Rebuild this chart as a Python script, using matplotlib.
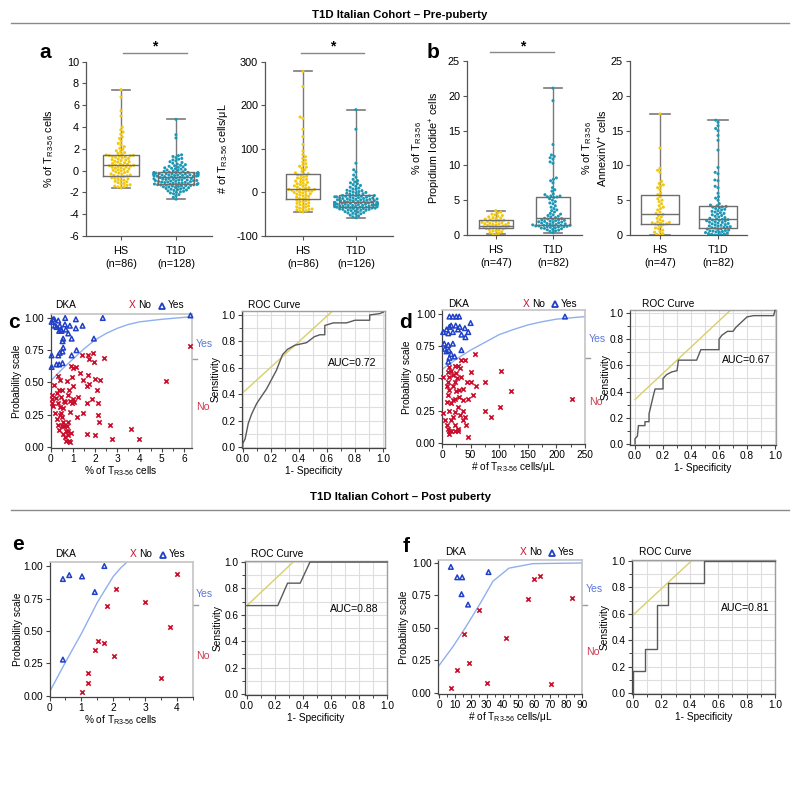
import warnings
warnings.filterwarnings("ignore")

import matplotlib
matplotlib.use("Agg")
import matplotlib.pyplot as plt
from matplotlib.lines import Line2D
from matplotlib.ticker import MultipleLocator
import seaborn as sns

plt.rcParams['font.family'] = ['Liberation Sans', 'DejaVu Sans']
plt.rcParams['mathtext.default'] = 'regular'
plt.rcParams['axes.unicode_minus'] = False
plt.rcParams['font.size'] = 8

# ---------------- data ----------------
groups = ['HS', 'T1D']

# a: % of TR3-56 cells
a1_hs = [-1.55, -1.5, -1.48, -1.42, -1.35, -1.3, -1.22, -1.18, -1.1, -1.02, -0.98, -0.92, -0.88, -0.8, -0.76,
         -0.7, -0.66, -0.6, -0.55, -0.52, -0.48,
         -0.44, -0.4, -0.33, -0.3, -0.22, -0.18, -0.12, -0.08, -0.02, 0.02, 0.08, 0.12, 0.17, 0.22, 0.26, 0.3,
         0.33, 0.38, 0.41, 0.44, 0.47, 0.49,
         0.52, 0.58, 0.62, 0.66, 0.72, 0.78, 0.82, 0.86, 0.92, 0.98, 1.02, 1.06, 1.12, 1.18, 1.22, 1.26, 1.3,
         1.33, 1.36, 1.38, 1.40,
         1.44, 1.5, 1.58, 1.66, 1.75, 1.82, 1.95, 2.05, 2.2, 2.35, 2.5, 2.7, 2.95, 3.1, 3.35, 3.55, 3.75, 4.0,
         5.0, 5.5, 6.75, 7.43]
a1_t1d = [-2.61, -2.45, -2.3, -2.2, -2.12, -2.05, -2.0, -1.95, -1.9, -1.86, -1.82, -1.78, -1.74, -1.7, -1.67,
          -1.64, -1.6, -1.57, -1.54, -1.5, -1.48, -1.45, -1.42, -1.4, -1.38, -1.36, -1.34, -1.32, -1.3, -1.29,
          -1.27, -1.26,
          -1.24, -1.23, -1.2, -1.19, -1.15, -1.14, -1.12, -1.09, -1.08, -1.05, -1.04, -1.01, -1.0, -0.98, -0.95,
          -0.94, -0.92, -0.9, -0.87, -0.86, -0.84, -0.81, -0.8, -0.78, -0.75, -0.74, -0.72, -0.69, -0.67, -0.64,
          -0.61, -0.57,
          -0.55, -0.54, -0.52, -0.51, -0.5, -0.48, -0.47, -0.45, -0.44, -0.42, -0.41, -0.4, -0.38, -0.37, -0.35,
          -0.34, -0.33, -0.31, -0.3, -0.29, -0.28, -0.27, -0.25, -0.24, -0.23, -0.22, -0.21, -0.2, -0.19, -0.18,
          -0.17, -0.16,
          -0.14, -0.1, -0.06, -0.02, 0.02, 0.06, 0.1, 0.14, 0.18, 0.22, 0.26, 0.3, 0.35, 0.4, 0.45, 0.5, 0.55,
          0.6, 0.68, 0.75, 0.82, 0.9, 0.98, 1.05, 1.12, 1.2, 1.3, 1.38, 1.45, 3.0, 3.3, 4.71]
# a: # of TR3-56 cells/uL
a2_hs = [-44, -43, -42, -40, -39, -38, -37, -36, -34, -33, -31, -30, -28, -27, -25, -24, -22, -21, -19, -18, -17,
         -15, -14, -12, -11, -9, -8, -6, -5, -4, -3, -1, 0, 1, 2, 3, 4, 5, 5, 6, 7, 7, 8,
         10, 11, 12, 14, 15, 17, 18, 20, 21, 23, 25, 26, 28, 30, 32, 33, 35, 37, 39, 40, 42,
         43, 45, 48, 52, 55, 58, 60, 63, 66, 70, 74, 78, 82, 87, 95, 110, 128, 145, 170, 173, 243, 278]
a2_t1d = [-58, -56, -54, -52, -50, -49, -48, -47, -46, -45, -44, -43, -42, -41, -41, -40, -39, -39, -38, -38,
          -37, -37, -36, -36, -35, -35, -34, -34, -34, -33, -33,
          -32, -32, -31, -31, -31, -30, -30, -30, -29, -29, -29, -28, -28, -28, -27, -27, -27, -26, -26, -26,
          -25, -25, -25, -25, -24, -24, -24, -24, -23, -23, -23, -23,
          -22, -22, -21, -21, -20, -20, -19, -19, -18, -18, -17, -17, -16, -16, -15, -15, -14, -14, -13, -13,
          -12, -12, -11, -11, -10, -10, -9, -9, -8, -8, -7, -7,
          -6, -5, -4, -3, -2, -1, 0, 1, 2, 3, 4, 5, 7, 8, 10, 12, 14, 16, 18, 20, 22, 24, 27, 30, 35, 40, 47,
          52, 67, 145, 190]
# b: propidium iodide+ and annexinV+
b1_hs = [0.05, 0.15, 0.25, 0.35, 0.45, 0.55, 0.62, 0.7, 0.78, 0.85, 0.92, 0.98, 1.02, 1.08, 1.12, 1.18, 1.22,
         1.28, 1.32, 1.38, 1.42, 1.48, 1.52, 1.58, 1.62, 1.68, 1.72, 1.78, 1.82, 1.88, 1.95, 2.0, 2.05, 2.12,
         2.2, 2.28, 2.35, 2.42, 2.5, 2.6, 2.7, 2.8, 2.9, 3.0, 3.15, 3.3, 3.5]
b1_t1d = [0.34, 0.5, 0.6, 0.7, 0.75, 0.8, 0.9, 0.95, 1.0, 1.05, 1.1, 1.15, 1.2, 1.2, 1.25, 1.3, 1.3, 1.35,
          1.38, 1.39, 1.4, 1.45, 1.5, 1.55, 1.6, 1.65, 1.7, 1.75, 1.8, 1.85, 1.9, 1.95, 2.0, 2.05, 2.1, 2.15,
          2.2, 2.25, 2.3, 2.35, 2.4, 2.5, 2.6, 2.7, 2.8, 2.9, 3.0, 3.1, 3.3, 3.5, 3.6, 3.8, 4.0, 4.2, 4.5,
          4.6, 4.8, 5.0, 5.2, 5.4, 5.46, 5.5, 5.6, 5.6, 5.8, 5.9, 6.3, 6.5, 6.8, 7.5, 7.8, 8.0, 8.2, 10.3,
          10.5, 10.9, 11.1, 11.3, 11.5, 13.0, 19.3, 21.1]
b2_hs = [0, 0.1, 0.2, 0.4, 0.5, 0.7, 0.9, 1.0, 1.2, 1.4, 1.5, 1.58, 1.6, 1.7, 1.75, 1.8, 1.9, 2.0, 2.2, 2.4,
         2.6, 2.8, 2.97, 3.1, 3.3, 3.6, 3.8, 4.0, 4.2, 4.5, 4.8, 5.0, 5.2, 5.5, 5.8, 6.0, 6.5, 6.8, 7.0, 7.2,
         7.4, 7.7, 9.0, 9.3, 9.6, 12.5, 17.4]
b2_t1d = [0, 0, 0.05, 0.1, 0.15, 0.2, 0.3, 0.35, 0.4, 0.45, 0.5, 0.55, 0.6, 0.65, 0.7, 0.8, 0.85, 0.9, 1.0,
          1.05, 1.1, 1.15, 1.2, 1.25, 1.3, 1.4, 1.45, 1.5, 1.6, 1.65, 1.7, 1.8, 1.85, 1.9, 2.0, 2.05, 2.1,
          2.15, 2.2, 2.25, 2.3, 2.4, 2.5, 2.6, 2.7, 2.8, 2.9, 3.0, 3.1, 3.2, 3.3, 3.4, 3.5, 3.6, 3.7, 3.8,
          3.9, 4.0, 4.05, 4.1, 4.2, 4.3, 4.5, 5.0, 5.3, 5.5, 6.0, 6.8, 7.0, 7.8, 7.9, 8.8, 9.0, 9.7, 12.2,
          13.6, 14.3, 15.0, 15.3, 15.7, 16.2, 16.5]

# box stats: (min, q1, median, q3, max)
a1_box = [(-1.55, -0.47, 0.49, 1.40, 7.43), (-2.61, -1.26, -0.55, -0.16, 4.71)]
a2_box = [(-44, -16, 8, 42, 278), (-58, -33, -23, -7, 190)]
b1_box = [(0.1, 1.05, 1.3, 2.1, 3.5), (0.34, 1.39, 2.4, 5.46, 21.1)]
b2_box = [(0.0, 1.58, 2.97, 5.8, 17.4), (0.0, 1.05, 2.3, 4.2, 16.5)]

a1_n = ['(n=86)', '(n=128)']
a2_n = ['(n=86)', '(n=126)']
b_n = ['(n=47)', '(n=82)']

# c: DKA vs % of TR3-56 cells (pre-puberty)
c_yes_x = [0.05, 0.27, 0.39, 0.54, 0.05, 0.35, 0.42, 0.54, 0.57, 0.95, 1.17, 0.54, 0.57, 0.95, 0.80, 0.69,
           0.47, 0.39, 0.20, 0.42, 0.65, 0.87, 1.14, 1.44, 1.95, 0.05, 0.17, 0.35, 0.66, 1.14, 2.35, 6.29,
           0.12, 0.50, 0.27]
c_yes_y = [0.62, 0.64, 0.64, 0.65, 0.71, 0.71, 0.73, 0.74, 0.77, 0.71, 0.75, 0.82, 0.84, 0.84, 0.88, 0.91,
           0.91, 0.90, 0.94, 0.94, 0.95, 0.94, 0.92, 0.94, 0.84, 0.97, 0.99, 0.98, 1.00, 0.99, 1.00, 1.02,
           0.99, 0.90, 0.93]
c_no_x = [0.05, 0.05, 0.17, 0.27, 0.35, 0.42, 0.39, 0.47, 0.35, 0.42, 0.57, 0.47, 0.53, 0.57, 0.62, 0.69,
          0.54, 0.80, 0.83, 0.93, 0.72, 0.80, 0.87, 0.72, 0.84, 0.87, 0.95, 0.99, 0.96, 1.05, 0.92, 0.99,
          1.25, 1.44, 1.44, 1.40, 1.67, 1.74, 1.92, 1.95, 1.70, 1.74, 1.62, 1.85, 2.00, 2.08, 2.15, 2.23,
          2.12, 2.20, 2.00, 1.65, 2.68, 2.75, 3.61, 4.00, 2.42, 5.20, 6.29, 0.12, 0.20, 0.30, 0.35, 0.39,
          0.69, 0.87, 0.51, 0.24, 0.65, 0.80, 0.53, 1.14, 0.05, 0.60, 0.42, 1.02, 1.32, 0.80, 0.65, 1.62, 1.17]
c_no_y = [0.40, 0.37, 0.48, 0.42, 0.55, 0.52, 0.44, 0.39, 0.34, 0.31, 0.30, 0.26, 0.23, 0.19, 0.16, 0.12,
          0.10, 0.09, 0.05, 0.11, 0.16, 0.19, 0.27, 0.51, 0.44, 0.36, 0.34, 0.37, 0.54, 0.35, 0.63, 0.61,
          0.39, 0.52, 0.26, 0.71, 0.71, 0.68, 0.73, 0.66, 0.56, 0.49, 0.47, 0.37, 0.53, 0.44, 0.34, 0.52,
          0.25, 0.19, 0.09, 0.10, 0.17, 0.06, 0.14, 0.06, 0.69, 0.51, 0.78, 0.32, 0.26, 0.22, 0.17, 0.13,
          0.05, 0.04, 0.16, 0.38, 0.35, 0.40, 0.44, 0.62, 0.34, 0.36, 0.25, 0.47, 0.57, 0.12, 0.08, 0.34, 0.23]
c_fit_x = [0, 0.5, 1.0, 1.5, 2.0, 2.5, 3.0, 3.5, 4.0, 5.0, 6.35]
c_fit_y = [0.51, 0.60, 0.68, 0.76, 0.83, 0.88, 0.92, 0.95, 0.97, 0.99, 1.01]
c_roc_x = [0, 0.0, 0.017, 0.04, 0.064, 0.1, 0.17, 0.24, 0.284, 0.32, 0.37, 0.455, 0.51, 0.55, 0.585, 0.585,
           0.645, 0.74, 0.8, 0.905, 0.905, 0.976, 1.0]
c_roc_y = [0, 0.025, 0.06, 0.18, 0.25, 0.33, 0.44, 0.58, 0.70, 0.74, 0.77, 0.79, 0.835, 0.85, 0.85, 0.92,
           0.94, 0.94, 0.96, 0.96, 1.0, 1.01, 1.02]
c_tan = ([0, 0.64], [0.41, 1.03])

# d: DKA vs # of TR3-56 cells/uL (pre-puberty)
d_yes_x = [2, 8, 13, 16, 13, 19, 25, 30, 24, 31, 40, 46, 50, 11, 19, 34, 41, 4, 11, 19, 12, 5, 16, 11, 13,
           34, 22, 215, 28, 8]
d_yes_y = [0.86, 0.88, 0.90, 0.91, 0.98, 0.98, 0.98, 0.98, 0.91, 0.90, 0.89, 0.86, 0.93, 0.85, 0.86, 0.84,
           0.82, 0.77, 0.76, 0.77, 0.72, 0.73, 0.69, 0.63, 0.66, 0.72, 0.67, 0.98, 0.88, 0.71]
d_no_x = [2, 8, 11, 13, 16, 22, 28, 28, 22, 16, 19, 22, 31, 36, 40, 42, 46, 36, 8, 11, 13, 19, 25, 30, 30,
          22, 16, 11, 13, 19, 25, 31, 28, 22, 16, 11, 13, 34, 34, 40, 43, 46, 50, 51, 59, 55, 57, 75, 75,
          85, 101, 103, 121, 227, 2, 5, 22, 26, 37, 19, 8, 13, 28, 37, 13]
d_no_y = [0.23, 0.14, 0.11, 0.07, 0.09, 0.09, 0.09, 0.11, 0.14, 0.18, 0.20, 0.24, 0.22, 0.25, 0.20, 0.14,
          0.05, 0.18, 0.32, 0.37, 0.41, 0.44, 0.40, 0.41, 0.36, 0.34, 0.31, 0.47, 0.51, 0.53, 0.54, 0.58,
          0.60, 0.60, 0.56, 0.55, 0.59, 0.51, 0.64, 0.64, 0.47, 0.34, 0.47, 0.55, 0.44, 0.37, 0.69, 0.47,
          0.25, 0.20, 0.28, 0.56, 0.40, 0.34, 0.51, 0.18, 0.47, 0.50, 0.42, 0.33, 0.44, 0.25, 0.28, 0.33, 0.09]
d_fit_x = [0, 25, 50, 75, 100, 125, 150, 175, 200, 225, 250]
d_fit_y = [0.57, 0.65, 0.72, 0.78, 0.84, 0.88, 0.915, 0.94, 0.96, 0.97, 0.98]
d_roc_x = [0, 0.0, 0.017, 0.024, 0.071, 0.071, 0.1, 0.1, 0.131, 0.143, 0.2, 0.2, 0.226, 0.262, 0.3, 0.31,
           0.44, 0.47, 0.6, 0.6, 0.62, 0.66, 0.7, 0.72, 0.76, 0.8, 0.845, 0.99, 1.0]
d_roc_y = [0, 0.04, 0.06, 0.14, 0.14, 0.17, 0.17, 0.23, 0.37, 0.42, 0.42, 0.5, 0.53, 0.55, 0.56, 0.64,
           0.64, 0.72, 0.72, 0.8, 0.83, 0.86, 0.86, 0.89, 0.93, 0.97, 0.98, 0.98, 1.02]
d_tan = ([0, 0.68], [0.34, 1.02])

# e: DKA vs % of TR3-56 cells (post puberty)
e_yes_x = [0.42, 0.62, 1.02, 1.42, 1.72, 0.42]
e_yes_y = [0.90, 0.93, 0.92, 0.80, 1.00, 0.28]
e_no_x = [3.99, 2.10, 1.80, 3.00, 3.79, 1.51, 1.72, 1.42, 2.01, 3.50, 1.21, 1.21, 1.02]
e_no_y = [0.94, 0.82, 0.69, 0.72, 0.53, 0.42, 0.41, 0.35, 0.31, 0.14, 0.18, 0.10, 0.03]
e_fit_x = [0, 0.5, 1.0, 1.5, 2.0, 2.25, 2.43]
e_fit_y = [0.03, 0.26, 0.48, 0.72, 0.92, 0.99, 1.03]
e_roc_x = [0, 0.22, 0.29, 0.38, 0.45, 1.0]
e_roc_y = [0.67, 0.67, 0.84, 0.84, 1.0, 1.0]
e_tan = ([0, 0.33], [0.67, 1.0])

# f: DKA vs # of TR3-56 cells/uL (post puberty)
f_yes_x = [7.5, 11.5, 14.6, 14.2, 18.3, 31.2]
f_yes_y = [0.97, 0.89, 0.89, 0.76, 0.68, 0.93]
f_no_x = [7.5, 11.6, 15.8, 18.6, 25.0, 30.4, 42.3, 55.8, 60.0, 63.5, 70.8, 83.5]
f_no_y = [0.04, 0.18, 0.45, 0.23, 0.64, 0.08, 0.42, 0.72, 0.88, 0.90, 0.07, 0.73]
f_fit_x = [0, 9, 17, 26, 34, 44, 59, 90]
f_fit_y = [0.21, 0.36, 0.51, 0.69, 0.86, 0.96, 0.995, 1.0]
f_roc_x = [0, 0, 0.083, 0.083, 0.167, 0.167, 0.25, 0.25, 0.5, 0.5, 1.0]
f_roc_y = [0, 0.167, 0.167, 0.333, 0.333, 0.667, 0.667, 0.833, 0.833, 1.0, 1.0]
f_tan = ([0, 0.41], [0.59, 1.0])

# ---------------- styling ----------------
HS_COL = '#f2c80f'
T1D_COL = '#1b98b6'
NO_COL = '#c8102e'
YES_COL = '#2040c8'
FIT_COL = '#8fb0ee'
TAN_COL = '#d9cf6a'
AX_COL = '#444444'
FS = 7.3      # text size in panels c-f
FS_BOX = 7.8  # text size in panels a-b

W, H = 800, 802
fig = plt.figure(figsize=(8, 8.02), dpi=100)


def rect(x0, y0, x1, y1):
    return [x0 / W, 1 - y1 / H, (x1 - x0) / W, (y1 - y0) / H]


def ftext(x, y, s, **kw):
    fig.text(x / W, 1 - y / H, s, **kw)


def hline(x0, x1, y, color='#8a8a8a', lw=1.0):
    fig.add_artist(Line2D([x0 / W, x1 / W], [1 - y / H] * 2, color=color, lw=lw, transform=fig.transFigure))


def box_panel(r, hs, t1d, stats, nlab, ylim, yticks, xlim, ylabel, ylab_x, widths, sig=None):
    ax = fig.add_axes(rect(*r))
    cats = ['HS'] * len(hs) + ['T1D'] * len(t1d)
    sns.swarmplot(x=cats, y=list(hs) + list(t1d), hue=cats, order=groups, hue_order=groups,
                  palette={'HS': HS_COL, 'T1D': T1D_COL}, size=2.2, linewidth=0, legend=False,
                  ax=ax, zorder=3)
    bx = [dict(whislo=s[0], q1=s[1], med=s[2], q3=s[3], whishi=s[4], fliers=[]) for s in stats]
    ax.bxp(bx, positions=[0, 1], widths=widths, showfliers=False, manage_ticks=False,
           boxprops=dict(color='#6e6e6e', lw=1.0, zorder=4),
           medianprops=dict(color='#6e6e6e', lw=1.0, zorder=4),
           whiskerprops=dict(color='#7a7a7a', lw=1.0, zorder=2),
           capprops=dict(color='#7a7a7a', lw=1.2, zorder=2))
    ax.set_xlim(*xlim)
    ax.set_ylim(*ylim)
    ax.set_yticks(yticks)
    ax.set_xticks([0, 1])
    ax.set_xticklabels([g + '\n' + n for g, n in zip(groups, nlab)], linespacing=1.45)
    ax.set_xlabel('')
    ax.set_ylabel(ylabel, fontsize=FS_BOX, linespacing=1.3)
    ax.yaxis.set_label_coords(ylab_x, 0.5)
    for s in ['top', 'right']:
        ax.spines[s].set_visible(False)
    for s in ['left', 'bottom']:
        ax.spines[s].set_color('#555555')
        ax.spines[s].set_linewidth(0.9)
    ax.tick_params(labelsize=FS_BOX, length=3, width=0.8, color='#555555', pad=2)
    ax.tick_params(axis='x', pad=4)
    if sig is not None:
        tr = ax.get_xaxis_transform()
        ax.plot([sig[0], sig[1]], [1.05, 1.05], color='#888888', lw=1.0, transform=tr, clip_on=False)
        ax.text((sig[0] + sig[1]) / 2, 1.045, '*', transform=tr, ha='center', va='bottom', fontsize=10,
                fontweight='bold')
    return ax


def dka_panel(r, no_x, no_y, yes_x, yes_y, fit_x, fit_y, xlim, ylim, major, minor, xlabel, cut,
              ylab_x, xlab_y):
    ax = fig.add_axes(rect(*r))
    ax.plot(fit_x, fit_y, color=FIT_COL, lw=1.0, zorder=2)
    ax.scatter(no_x, no_y, marker='x', s=10, color=NO_COL, linewidths=1.2, zorder=3, clip_on=False)
    ax.scatter(yes_x, yes_y, marker='^', s=11, facecolors='none', edgecolors=YES_COL, linewidths=1.1,
               zorder=3, clip_on=False)
    ax.set_xlim(*xlim)
    ax.set_ylim(*ylim)
    ax.xaxis.set_major_locator(MultipleLocator(major))
    ax.xaxis.set_minor_locator(MultipleLocator(minor))
    ax.set_yticks([0, 0.25, 0.5, 0.75, 1.0])
    ax.set_yticklabels(['0.00', '0.25', '0.50', '0.75', '1.00'])
    for s in ['top', 'right']:
        ax.spines[s].set_color('#c4c4c4')
        ax.spines[s].set_linewidth(1.2)
    for s in ['left', 'bottom']:
        ax.spines[s].set_color(AX_COL)
        ax.spines[s].set_linewidth(0.9)
    ax.tick_params(labelsize=FS, length=3, width=0.8, color=AX_COL, pad=1.5)
    ax.tick_params(which='minor', length=2, width=0.7, color=AX_COL)
    ax.set_ylabel('Probability scale', fontsize=FS)
    ax.yaxis.set_label_coords(ylab_x, 0.5)
    ax.set_xlabel(xlabel, fontsize=FS)
    ax.xaxis.set_label_coords(0.5, xlab_y)
    tr = ax.get_yaxis_transform()
    ax.plot([1.0, 1.035], [cut, cut], color='#9a9a9a', lw=1.0, transform=tr, clip_on=False)
    return ax


def roc_panel(r, rx, ry, tan, xlim, ylim, auc, auc_xy, ylab_x, xlab_y):
    ax = fig.add_axes(rect(*r))
    ax.plot(tan[0], tan[1], color=TAN_COL, lw=1.0, zorder=2)
    ax.plot(rx, ry, color='#5a5a5a', lw=1.0, zorder=3, clip_on=False)
    ax.set_xlim(*xlim)
    ax.set_ylim(*ylim)
    ax.xaxis.set_major_locator(MultipleLocator(0.2))
    ax.xaxis.set_minor_locator(MultipleLocator(0.1))
    ax.yaxis.set_major_locator(MultipleLocator(0.2))
    ax.yaxis.set_minor_locator(MultipleLocator(0.1))
    ax.xaxis.set_major_formatter(lambda v, p: f'{v:.1f}')
    ax.yaxis.set_major_formatter(lambda v, p: f'{v:.1f}')
    ax.grid(True, which='both', color='#dedede', lw=0.8, zorder=0)
    ax.set_axisbelow(True)
    for s in ['top', 'right']:
        ax.spines[s].set_color('#9e9e9e')
        ax.spines[s].set_linewidth(1.0)
    for s in ['left', 'bottom']:
        ax.spines[s].set_color(AX_COL)
        ax.spines[s].set_linewidth(0.9)
    ax.tick_params(labelsize=FS, length=3, width=0.8, color=AX_COL, pad=1.5)
    ax.tick_params(which='minor', length=2, width=0.7, color=AX_COL)
    ax.set_ylabel('Sensitivity', fontsize=FS)
    ax.yaxis.set_label_coords(ylab_x, 0.5)
    ax.set_xlabel('1- Specificity', fontsize=FS)
    ax.xaxis.set_label_coords(0.5, xlab_y)
    ax.text(auc_xy[0], auc_xy[1], auc, transform=ax.transAxes, fontsize=7.6, va='center')
    return ax


def dka_header(dka_x, x_no, tri_x, y, roc_x):
    ftext(dka_x, y, 'DKA', fontsize=FS, va='center')
    ftext(x_no, y, 'X', color=NO_COL, fontsize=FS, va='center', ha='center')
    ftext(x_no + 6, y, 'No', fontsize=FS, va='center')
    fig.add_artist(Line2D([tri_x / W], [1 - (y + 0.5) / H], marker='^', mfc='none', mec=YES_COL, mew=1.3,
                          ms=4.8, ls='', transform=fig.transFigure))
    ftext(tri_x + 6, y, 'Yes', fontsize=FS, va='center')
    ftext(roc_x, y, 'ROC Curve', fontsize=FS, va='center')


def side_labels(x, y_yes, y_no):
    ftext(x, y_yes, 'Yes', color='#5a78dc', fontsize=7.6, va='center')
    ftext(x, y_no, 'No', color='#cc3c50', fontsize=7.6, va='center')


# ---------------- section titles ----------------
ftext(400, 15, 'T1D Italian Cohort \u2013 Pre-puberty', fontsize=8.2, fontweight='bold', ha='center',
      va='center')
hline(11, 789, 23)
ftext(400, 497, 'T1D Italian Cohort \u2013 Post puberty', fontsize=8.2, fontweight='bold', ha='center',
      va='center')
hline(11, 789, 510)

# ---------------- panels a, b ----------------
tr_lab = 'T$_{R3\u201056}$'
box_panel((86, 61.7, 212, 236), a1_hs, a1_t1d, a1_box, a1_n, (-6, 10), range(-6, 11, 2), (-0.636, 1.655),
          '% of ' + tr_lab + ' cells', -0.24, 0.65, sig=(0.04, 1.2))
box_panel((265, 61.7, 393, 236), a2_hs, a2_t1d, a2_box, a2_n, (-100, 300), range(-100, 301, 100),
          (-0.717, 1.70), '# of ' + tr_lab + ' cells/\u03bcL', -0.27, 0.65, sig=(-0.04, 1.15))
box_panel((467, 61, 582, 235), b1_hs, b1_t1d, b1_box, b_n, (0, 25), range(0, 26, 5), (-0.51, 1.51),
          '% of ' + tr_lab + '\nPropidium Iodide$^{+}$ cells', -0.21, 0.6, sig=(-0.1, 1.02))
box_panel((630, 61, 747, 235), b2_hs, b2_t1d, b2_box, b_n, (0, 25), range(0, 26, 5), (-0.517, 1.5),
          '% of ' + tr_lab + '\nAnnexinV$^{+}$ cells', -0.17, 0.66)
ftext(45, 53, 'a', fontsize=15, fontweight='bold', ha='center', va='center')
ftext(433, 53, 'b', fontsize=15, fontweight='bold', ha='center', va='center')

# ---------------- panels c, d ----------------
dka_panel((50.5, 314, 192, 448), c_no_x, c_no_y, c_yes_x, c_yes_y, c_fit_x, c_fit_y, (0, 6.36),
          (-0.008, 1.031), 1, 0.5, '% of ' + tr_lab + ' cells', 0.68, -0.2, -0.12)
roc_panel((242, 311, 385, 448), c_roc_x, c_roc_y, c_tan, (-0.005, 1.014), (-0.008, 1.03), 'AUC=0.72',
          (0.6, 0.62), -0.147, -0.135)
dka_header(55, 132, 162, 305, 248)
side_labels(196, 344, 407)
ftext(14, 323, 'c', fontsize=15, fontweight='bold', ha='center', va='center')

dka_panel((442, 310, 585, 444), d_no_x, d_no_y, d_yes_x, d_yes_y, d_fit_x, d_fit_y, (0, 250),
          (-0.008, 1.031), 50, 25, '# of ' + tr_lab + ' cells/\u03bcL', 0.66, -0.21, -0.12)
roc_panel((630, 310, 776, 445), d_roc_x, d_roc_y, d_tan, (-0.036, 1.007), (-0.008, 1.023), 'AUC=0.67',
          (0.63, 0.63), -0.13, -0.135)
dka_header(448, 526, 555, 304, 642)
side_labels(589, 339, 402)
ftext(406, 323, 'd', fontsize=15, fontweight='bold', ha='center', va='center')

# ---------------- panels e, f ----------------
dka_panel((49.5, 562, 193, 697), e_no_x, e_no_y, e_yes_x, e_yes_y, e_fit_x, e_fit_y, (0, 4.5),
          (-0.008, 1.031), 1, 0.5, '% of ' + tr_lab + ' cells', 0.70, -0.185, -0.12)
roc_panel((245, 561, 387, 695), e_roc_x, e_roc_y, e_tan, (-0.014, 1.0), (-0.008, 1.008), 'AUC=0.88',
          (0.6, 0.64), -0.16, -0.135)
dka_header(55, 133, 163, 554, 251)
side_labels(196, 594, 656)
ftext(18, 545, 'e', fontsize=15, fontweight='bold', ha='center', va='center')

dka_panel((438, 560, 582, 694), f_no_x, f_no_y, f_yes_x, f_yes_y, f_fit_x, f_fit_y, (-0.6, 90.0),
          (-0.008, 1.023), 10, 5, '# of ' + tr_lab + ' cells/\u03bcL', 0.68, -0.2, -0.12)
roc_panel((632, 560, 775, 694), f_roc_x, f_roc_y, f_tan, (-0.007, 1.0), (-0.008, 1.008), 'AUC=0.81',
          (0.62, 0.64), -0.154, -0.135)
dka_header(445, 523, 552, 552, 639)
side_labels(586, 589, 652)
ftext(406, 546, 'f', fontsize=15, fontweight='bold', ha='center', va='center')

fig.savefig('out.png', dpi=100)
